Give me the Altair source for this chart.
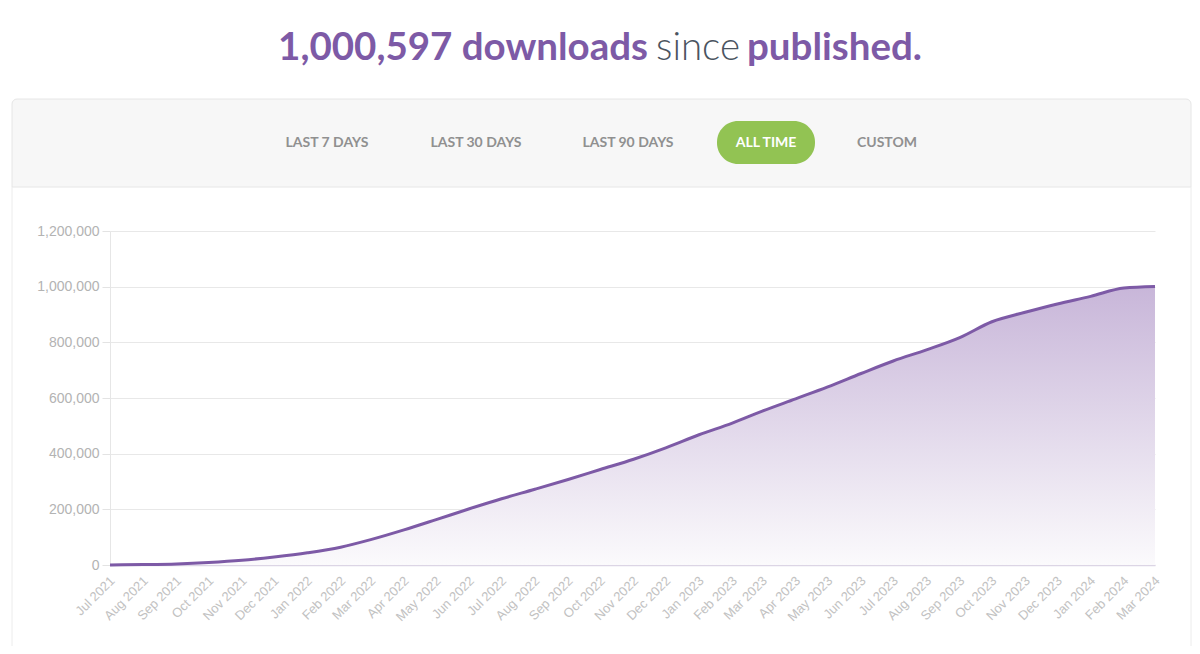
import altair as alt
import pandas as pd

months = [
    "2021-07-01", "2021-08-01", "2021-09-01", "2021-10-01", "2021-11-01", "2021-12-01",
    "2022-01-01", "2022-02-01", "2022-03-01", "2022-04-01", "2022-05-01", "2022-06-01",
    "2022-07-01", "2022-08-01", "2022-09-01", "2022-10-01", "2022-11-01", "2022-12-01",
    "2023-01-01", "2023-02-01", "2023-03-01", "2023-04-01", "2023-05-01", "2023-06-01",
    "2023-07-01", "2023-08-01", "2023-09-01", "2023-10-01", "2023-11-01", "2023-12-01",
    "2024-01-01", "2024-02-01", "2024-03-01",
]
downloads = [
    0, 1500, 4000, 9000, 17000, 29000,
    44000, 64000, 91000, 126000, 163000, 202000,
    238000, 272000, 307000, 343000, 380000, 421000,
    468000, 510000, 553000, 597000, 640000, 688000,
    733000, 773000, 817000, 874000, 908000, 938000,
    965000, 995000, 1000597,
]
y_ticks = [0, 200000, 400000, 600000, 800000, 1000000, 1200000]
buttons = ["LAST 7 DAYS", "LAST 30 DAYS", "LAST 90 DAYS", "ALL TIME", "CUSTOM"]
title_parts = ["1,000,597 downloads", "since", "published."]

PURPLE = "#7d5aa6"
GRAY_BTN = "#909090"
GREEN = "#92c353"

df = pd.DataFrame({"date": pd.to_datetime(months), "downloads": downloads})
one = pd.DataFrame({"a": [0]})

x_enc = alt.X(
    "date:T",
    title=None,
    scale=alt.Scale(domain=[months[0], months[-1]]),
    axis=alt.Axis(
        format="%b %Y",
        tickCount={"interval": "month", "step": 1},
        labelAngle=-45,
        labelColor="#c2c2c2",
        labelFont="Liberation Sans",
        labelFontSize=13,
        labelOffset=-2,
        labelPadding=9,
        ticks=False,
        grid=False,
        domainColor="#dcd5e5",
        domainWidth=1.5,
        labelOverlap=False,
    ),
)
y_enc = alt.Y(
    "downloads:Q",
    title=None,
    scale=alt.Scale(domain=[0, 1200000], nice=False),
    axis=alt.Axis(
        values=y_ticks,
        format=",.0f",
        labelColor="#b3b3b3",
        labelFont="Liberation Sans",
        labelFontSize=14,
        labelPadding=3,
        tickSize=8,
        tickColor="#e3e3e3",
        gridColor="#e8e8e8",
        domainColor="#e6e6e6",
    ),
)

gradient = alt.Gradient(
    gradient="linear",
    stops=[
        alt.GradientStop(color="#c8b6d9", offset=0),
        alt.GradientStop(color="#fbfafc", offset=1),
    ],
    x1=1, x2=1, y1=0, y2=1,
)

area = alt.Chart(df).mark_area(interpolate="monotone", color=gradient).encode(x=x_enc, y=y_enc)
line = alt.Chart(df).mark_line(interpolate="monotone", color=PURPLE, strokeWidth=3).encode(x="date:T", y="downloads:Q")

# Panel decorations (chart origin = plot area top-left)
header = alt.Chart(one).mark_rect(
    fill="#f7f7f7", stroke="#e6e6e6", strokeWidth=1,
    cornerRadiusTopLeft=5, cornerRadiusTopRight=5,
).encode(x=alt.value(-98), x2=alt.value(1081), y=alt.value(-132), y2=alt.value(-44))
left_edge = alt.Chart(one).mark_rule(color="#ececec").encode(
    x=alt.value(-98), y=alt.value(-44), y2=alt.value(430))
right_edge = alt.Chart(one).mark_rule(color="#ececec").encode(
    x=alt.value(1081), y=alt.value(-44), y2=alt.value(430))

pill = alt.Chart(one).mark_rect(fill=GREEN, cornerRadius=21).encode(
    x=alt.value(607), x2=alt.value(705), y=alt.value(-110), y2=alt.value(-67))

btn_x = [217, 366, 518, 656, 777]
btn_layers = []
for label, bx in zip(buttons, btn_x):
    btn_layers.append(
        alt.Chart(one).mark_text(
            text=label, font="Lato", fontWeight="bold", fontSize=14,
            color="white" if label == "ALL TIME" else GRAY_BTN,
            align="center", baseline="middle",
        ).encode(x=alt.value(bx), y=alt.value(-88))
    )

t1 = alt.Chart(one).mark_text(
    text=title_parts[0], font="Lato", fontWeight="bold", fontSize=38.5, color=PURPLE,
    align="right", baseline="alphabetic",
).encode(x=alt.value(538), y=alt.value(-171))
t2 = alt.Chart(one).mark_text(
    text=title_parts[1], font="Lato", fontWeight=300, fontSize=38.5, color="#4b5460",
    align="center", baseline="alphabetic",
).encode(x=alt.value(588), y=alt.value(-171))
t3 = alt.Chart(one).mark_text(
    text=title_parts[2], font="Lato", fontWeight="bold", fontSize=38.5, color=PURPLE,
    align="left", baseline="alphabetic",
).encode(x=alt.value(637), y=alt.value(-171))

chart = alt.layer(
    header, left_edge, right_edge, pill, *btn_layers, t1, t2, t3, area, line
).properties(
    width=1045,
    height=334,
    padding={"left": 102, "top": 223, "right": 37, "bottom": 81},
    autosize=alt.AutoSizeParams(type="none"),
    background="white",
).configure_view(stroke=None)

chart.save("out.html", embed_options={"renderer": "svg", "actions": False})
